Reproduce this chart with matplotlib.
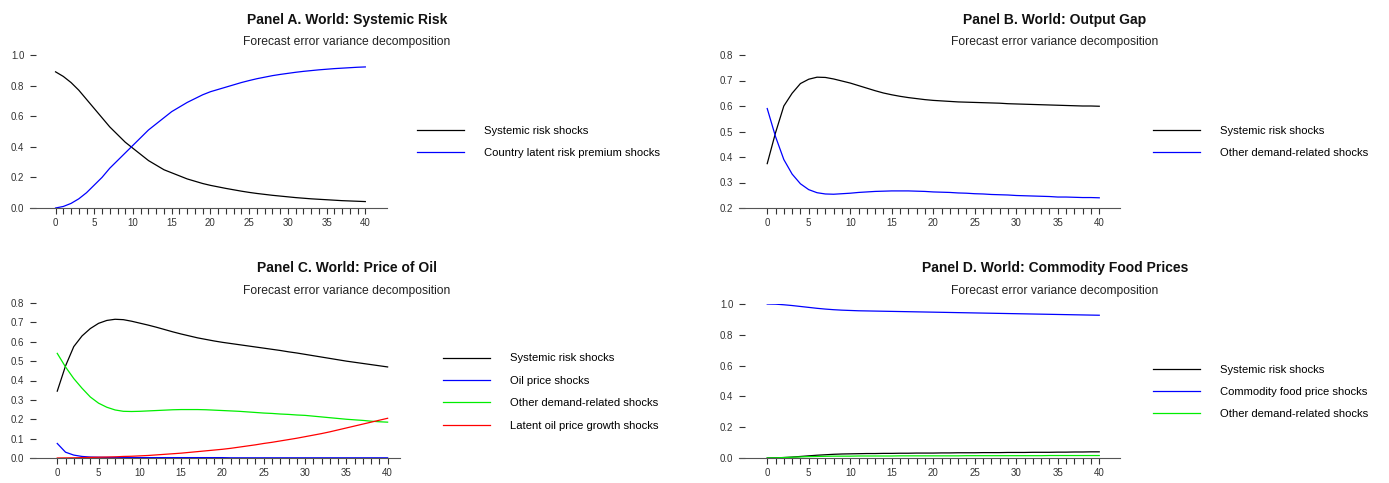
import matplotlib
matplotlib.use("Agg")
import matplotlib.pyplot as plt
from matplotlib import font_manager
from matplotlib.lines import Line2D

# font: narrow sans if present
names = {f.name for f in font_manager.fontManager.ttflist}
fam = "Liberation Sans Narrow" if "Liberation Sans Narrow" in names else "Liberation Sans"
plt.rcParams['font.family'] = [fam, 'DejaVu Sans']
narrow = fam == "Liberation Sans Narrow"
k = 1.2 if narrow else 1.0  # size boost when real narrow face exists

horizon = list(range(41))

# Panel A: systemic risk
a_systemic = [0.89, 0.86, 0.82, 0.77, 0.71, 0.65, 0.59, 0.53, 0.48, 0.43, 0.39,
              0.35, 0.31, 0.28, 0.25, 0.23, 0.21, 0.19, 0.175, 0.16, 0.148,
              0.138, 0.128, 0.119, 0.11, 0.102, 0.095, 0.089, 0.083, 0.078, 0.073,
              0.068, 0.064, 0.060, 0.057, 0.054, 0.051, 0.048, 0.046, 0.044, 0.042]
a_country = [0.0, 0.01, 0.03, 0.06, 0.10, 0.15, 0.20, 0.26, 0.31, 0.36, 0.41,
             0.46, 0.51, 0.55, 0.59, 0.63, 0.66, 0.69, 0.715, 0.74, 0.76,
             0.775, 0.79, 0.805, 0.82, 0.833, 0.845, 0.855, 0.865, 0.873, 0.88,
             0.887, 0.893, 0.898, 0.903, 0.907, 0.911, 0.914, 0.917, 0.92, 0.922]

# Panel B: output gap
b_systemic = [0.374, 0.495, 0.60, 0.65, 0.688, 0.705, 0.713, 0.712, 0.706, 0.698, 0.69,
              0.68, 0.67, 0.66, 0.651, 0.644, 0.638, 0.633, 0.629, 0.625, 0.622,
              0.62, 0.618, 0.616, 0.615, 0.614, 0.613, 0.612, 0.611, 0.609, 0.608,
              0.607, 0.606, 0.605, 0.604, 0.603, 0.602, 0.601, 0.60, 0.60, 0.599]
b_demand = [0.59, 0.48, 0.39, 0.333, 0.295, 0.272, 0.26, 0.255, 0.254, 0.256, 0.258,
            0.261, 0.263, 0.265, 0.266, 0.267, 0.267, 0.267, 0.266, 0.265, 0.263,
            0.262, 0.261, 0.259, 0.258, 0.256, 0.255, 0.253, 0.252, 0.251, 0.249,
            0.248, 0.247, 0.246, 0.245, 0.243, 0.243, 0.242, 0.241, 0.241, 0.24]

# Panel C: price of oil
c_systemic = [0.345, 0.475, 0.575, 0.63, 0.668, 0.695, 0.71, 0.716, 0.714, 0.706, 0.696,
              0.686, 0.675, 0.663, 0.651, 0.64, 0.63, 0.62, 0.612, 0.604, 0.597,
              0.591, 0.585, 0.579, 0.573, 0.567, 0.561, 0.555, 0.548, 0.542, 0.535,
              0.528, 0.521, 0.514, 0.507, 0.50, 0.494, 0.488, 0.482, 0.476, 0.47]
c_oil = [0.075, 0.03, 0.015, 0.008, 0.005, 0.004, 0.003, 0.003, 0.002, 0.002, 0.002,
         0.002, 0.002, 0.002, 0.002, 0.002, 0.002, 0.002, 0.002, 0.002, 0.002,
         0.001, 0.001, 0.001, 0.001, 0.001, 0.001, 0.001, 0.001, 0.001, 0.001,
         0.001, 0.001, 0.001, 0.001, 0.001, 0.001, 0.001, 0.001, 0.001, 0.001]
c_demand = [0.54, 0.47, 0.41, 0.36, 0.315, 0.283, 0.262, 0.248, 0.241, 0.24, 0.241,
            0.243, 0.245, 0.247, 0.249, 0.25, 0.25, 0.25, 0.249, 0.247, 0.245,
            0.243, 0.241, 0.238, 0.235, 0.232, 0.23, 0.227, 0.225, 0.222, 0.22,
            0.216, 0.212, 0.208, 0.204, 0.20, 0.197, 0.194, 0.19, 0.187, 0.185]
c_latent = [0.0, 0.0005, 0.001, 0.002, 0.003, 0.004, 0.005, 0.006, 0.008, 0.009, 0.011,
            0.013, 0.016, 0.019, 0.022, 0.025, 0.029, 0.033, 0.037, 0.041, 0.045,
            0.05, 0.056, 0.062, 0.068, 0.075, 0.081, 0.088, 0.095, 0.102, 0.11,
            0.118, 0.126, 0.135, 0.145, 0.155, 0.165, 0.175, 0.185, 0.195, 0.205]

# Panel D: commodity food prices
d_systemic = [0.0, 0.001, 0.003, 0.006, 0.01, 0.014, 0.018, 0.021, 0.024, 0.026, 0.027,
              0.028, 0.029, 0.029, 0.030, 0.030, 0.031, 0.031, 0.032, 0.032, 0.032,
              0.033, 0.033, 0.034, 0.034, 0.034, 0.035, 0.035, 0.035, 0.036, 0.036,
              0.036, 0.037, 0.037, 0.037, 0.038, 0.038, 0.039, 0.039, 0.040, 0.040]
d_food = [1.0, 0.999, 0.995, 0.99, 0.984, 0.978, 0.972, 0.967, 0.963, 0.96, 0.958,
          0.956, 0.955, 0.954, 0.953, 0.952, 0.951, 0.950, 0.949, 0.948, 0.947,
          0.946, 0.945, 0.944, 0.943, 0.942, 0.941, 0.940, 0.939, 0.938, 0.937,
          0.936, 0.935, 0.934, 0.933, 0.932, 0.931, 0.930, 0.929, 0.928, 0.927]
d_demand = [0.0, 0.001, 0.003, 0.005, 0.007, 0.009, 0.010, 0.011, 0.012, 0.012, 0.012,
            0.013, 0.013, 0.013, 0.013, 0.013, 0.014, 0.014, 0.014, 0.014, 0.014,
            0.014, 0.014, 0.014, 0.015, 0.015, 0.015, 0.015, 0.015, 0.015, 0.015,
            0.015, 0.015, 0.015, 0.016, 0.016, 0.016, 0.016, 0.016, 0.016, 0.016]

panels = [
    dict(title="Panel A. World: Systemic Risk",
         series=[(a_systemic, "black", "Systemic risk shocks"),
                 (a_country, "blue", "Country latent risk premium shocks")],
         yticks=[0.0, 0.2, 0.4, 0.6, 0.8, 1.0], ylim=(0, 1.0),
         rect=[30, 55, 387, 208], xlim=(-3.3, 42.8), leg=(417, 142), tx=347),
    dict(title="Panel B. World: Output Gap",
         series=[(b_systemic, "black", "Systemic risk shocks"),
                 (b_demand, "blue", "Other demand-related shocks")],
         yticks=[0.2, 0.3, 0.4, 0.5, 0.6, 0.7, 0.8], ylim=(0.2, 0.8),
         rect=[739, 55, 1120, 208], xlim=(-3.4, 42.5), leg=(1153, 142), tx=1055),
    dict(title="Panel C. World: Price of Oil",
         series=[(c_systemic, "black", "Systemic risk shocks"),
                 (c_oil, "blue", "Oil price shocks"),
                 (c_demand, "#00ee00", "Other demand-related shocks"),
                 (c_latent, "red", "Latent oil price growth shocks")],
         yticks=[0.0, 0.1, 0.2, 0.3, 0.4, 0.5, 0.6, 0.7, 0.8], ylim=(0, 0.8),
         rect=[30, 303, 400, 458], xlim=(-3.3, 41.5), leg=(443, 392), tx=347),
    dict(title="Panel D. World: Commodity Food Prices",
         series=[(d_systemic, "black", "Systemic risk shocks"),
                 (d_food, "blue", "Commodity food price shocks"),
                 (d_demand, "#00ee00", "Other demand-related shocks")],
         yticks=[0.0, 0.2, 0.4, 0.6, 0.8, 1.0], ylim=(0, 1.0),
         rect=[739, 304, 1120, 458], xlim=(-3.4, 42.5), leg=(1153, 392), tx=1055),
]

W, H = 1389, 483
fig = plt.figure(figsize=(W / 100, H / 100), dpi=100)

for p in panels:
    x0, y0, x1, y1 = p["rect"]
    ax = fig.add_axes([x0 / W, 1 - y1 / H, (x1 - x0) / W, (y1 - y0) / H])
    handles = []
    for vals, col, lab in p["series"]:
        ax.plot(horizon, vals, color=col, lw=0.9)
        handles.append(Line2D([], [], color=col, lw=0.9, label=lab))
    ax.set_xlim(*p["xlim"])
    ax.set_ylim(*p["ylim"])
    ax.set_xticks(range(0, 41, 5))
    ax.set_xticks(range(41), minor=True)
    ax.set_yticks(p["yticks"])
    ax.set_yticklabels([f"{v:.1f}" for v in p["yticks"]])
    for s in ["top", "right", "left"]:
        ax.spines[s].set_visible(False)
    ax.spines["bottom"].set_color("#555555")
    ax.tick_params(axis="x", which="both", direction="out", length=4, width=0.8,
                   color="#333333", labelsize=7 * k, labelcolor="#333333", pad=3)
    ax.tick_params(axis="y", direction="in", length=4, width=0.8, color="#333333",
                   labelsize=7 * k, labelcolor="#333333", pad=4)
    ax.set_facecolor("none")

    top = y0 < 100
    fig.text(p["tx"] / W, 1 - (20 if top else 268) / H, p["title"],
             ha="center", va="center", fontsize=10 * k, fontweight="bold", color="#111111")
    fig.text(p["tx"] / W, 1 - (42 if top else 291) / H,
             "Forecast error variance decomposition",
             ha="center", va="center", fontsize=8.7 * k, color="#222222")

    lx, ly = p["leg"]
    fs = 8.1 * k
    px = fs * 100 / 72
    fig.legend(handles=handles, loc="center left",
               bbox_to_anchor=(lx / W, 1 - ly / H), frameon=False,
               fontsize=fs, handlelength=47 / px, handletextpad=20 / px,
               labelspacing=1.1, borderaxespad=0, borderpad=0)

fig.savefig("out.png", dpi=100)
